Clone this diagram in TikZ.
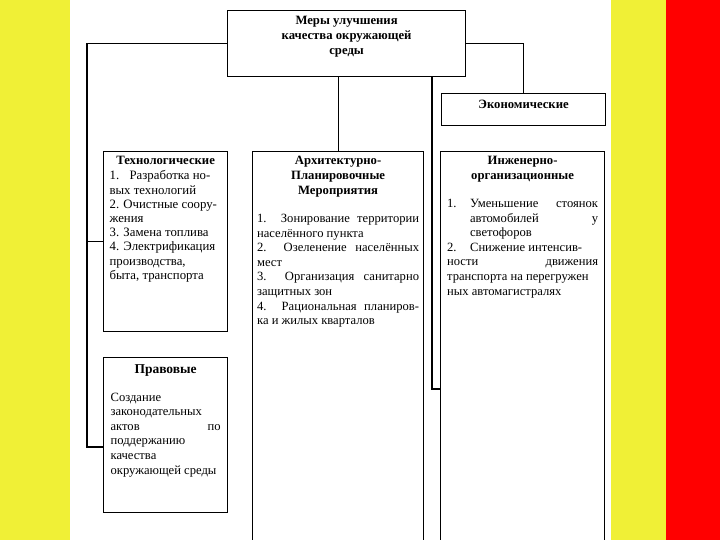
\documentclass[tikz,border=0pt]{standalone}
\usepackage{fontspec}
\setmainfont{Liberation Serif}
\usetikzlibrary{positioning}
\definecolor{stripe}{HTML}{F0F036}
\definecolor{edge}{HTML}{FF0000}

\begin{document}
\begin{tikzpicture}[x=1pt,y=-1pt,
  box/.style={draw,line width=1.2pt,anchor=north west,inner sep=0pt},
  head/.style={font=\fontsize{12.7}{15}\selectfont\bfseries,align=center,inner sep=0pt},
  body/.style={font=\fontsize{12.6}{14.6}\selectfont,align=justify,inner sep=0pt},
  link/.style={line width=1.2pt}]
  \useasboundingbox (0,0) rectangle (720,540);
  \fill[stripe] (0,0) rectangle (70,540);
  \fill[stripe] (611,0) rectangle (666,540);
  \fill[edge] (666,0) rectangle (720,540);

  \node[box,minimum width=238pt,minimum height=66pt] (goal) at (227,10) {};
  \node[box,minimum width=164pt,minimum height=32pt] (econ) at (441,93) {};
  \node[box,minimum width=124pt,minimum height=180pt] (tech) at (103,151) {};
  \node[box,minimum width=124pt,minimum height=155pt] (legal) at (103,357) {};
  \node[box,minimum width=171pt,minimum height=391pt] (arch) at (252,151) {};
  \node[box,minimum width=164pt,minimum height=391pt] (eng) at (440,151) {};

  \node[head,below=5.5pt of goal.north] (goalhead) {Меры улучшения\\качества окружающей\\среды};
  \node[head,below=7pt of econ.north] (econhead) {Экономические};
  \node[head,below=5pt of tech.north] (techhead) {Технологические};
  \node[head,below=5pt of arch.north] (archhead) {Архитектурно-\\Планировочные\\Мероприятия};
  \node[head,below=5pt of eng.north] (enghead) {Инженерно-\\организационные};
  \node[head,font=\fontsize{13.5}{15}\selectfont\bfseries,below=7pt of legal.north] (legalhead) {Правовые};

  \node[body,text width=112pt,below=19.5pt of tech.north,font=\fontsize{12.8}{14.2}\selectfont] (techbody)
    {\makebox[20pt][l]{1.}Разработка но-\newline
     вых технологий\newline
     2. Очистные соору-\newline
     жения\newline
     3. Замена топлива\newline
     4. Электрификация\newline
     производства,\newline
     быта, транспорта};
  \node[body,text width=162pt,below=63pt of arch.north] (archbody)
    {\makebox[\linewidth][s]{1.\ \ Зонирование территории}\newline
     населённого пункта\newline
     \makebox[\linewidth][s]{2.\ \ Озеленение населённых}\newline
     мест\newline
     \makebox[\linewidth][s]{3.\ \ Организация санитарно}\newline
     защитных зон\newline
     \makebox[\linewidth][s]{4.\ \ Рациональная планиров-}\newline
     ка и жилых кварталов};
  \node[body,text width=151pt,below=48pt of eng.north] (engbody)
    {\makebox[23pt][l]{1.}Уменьшение\hfill стоянок\newline
     \hspace*{23pt}автомобилей\hfill у\newline
     \hspace*{23pt}светофоров\newline
     \makebox[23pt][l]{2.}Снижение интенсив-\newline
     ности\hfill движения\newline
     транспорта на перегружен\newline
     ных автомагистралях};
  \node[body,text width=110pt,below=35.5pt of legal.north] (legalbody)
    {Создание\newline
     законодательных\newline
     актов\hfill по\newline
     поддержанию\newline
     качества\newline
     \mbox{окружающей среды}};

  \coordinate (legaljoin) at (87,447);
  \coordinate (engjoin) at (432,389);
  \draw[link] (goal.west) -| (legaljoin) -- (legaljoin -| legal.west);
  \draw[link] (tech.west) -- (tech.west -| legaljoin);
  \draw[link] (goal.south -| arch.north) -- (arch.north);
  \draw[link] (engjoin |- goal.south) -- (engjoin) -- (engjoin -| eng.west);
  \draw[link] (goal.east) -| (econ.north);
\end{tikzpicture}
\end{document}
